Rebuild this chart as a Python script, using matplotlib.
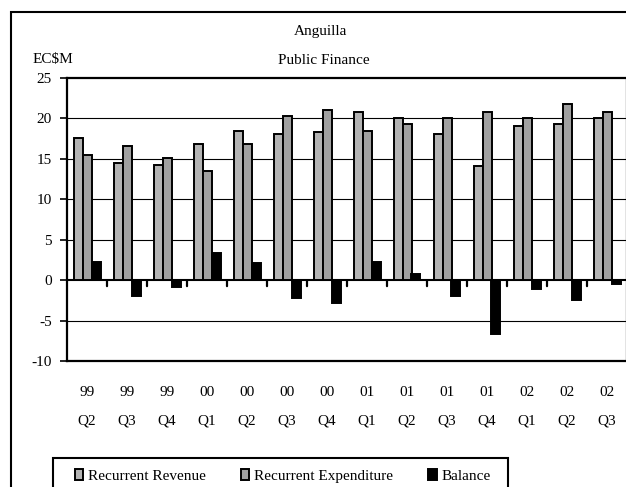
import matplotlib
matplotlib.use("Agg")
import matplotlib.pyplot as plt
import matplotlib.transforms as mtransforms
from matplotlib.patches import Rectangle
import numpy as np

# Quarterly public finance figures (EC$ millions)
years = ["99", "99", "99", "00", "00", "00", "00", "01", "01", "01", "01", "02", "02", "02"]
quarters = ["Q2", "Q3", "Q4", "Q1", "Q2", "Q3", "Q4", "Q1", "Q2", "Q3", "Q4", "Q1", "Q2", "Q3"]
revenue = [17.6, 14.5, 14.3, 16.8, 18.5, 18.1, 18.3, 20.8, 20.1, 18.1, 14.1, 19.1, 19.3, 20.1]
expenditure = [15.5, 16.6, 15.1, 13.5, 16.8, 20.3, 21.1, 18.5, 19.3, 20.1, 20.8, 20.1, 21.8, 20.8]
balance = [2.3, -2.0, -0.8, 3.3, 2.1, -2.2, -2.8, 2.3, 0.8, -2.0, -6.6, -1.1, -2.5, -0.5]
yticks = [-10, -5, 0, 5, 10, 15, 20, 25]

plt.rcParams["font.family"] = ["Liberation Serif", "DejaVu Serif"]
FS = 11

W, H = 626, 487
fig = plt.figure(figsize=(W / 100, H / 100), dpi=100)

# outer chart frame (runs off the right and bottom edges)
fig.patches.append(Rectangle((11 / W, -0.2), 1.2, 0.2 + (H - 12) / H,
                             transform=fig.transFigure, fill=False,
                             edgecolor="black", linewidth=1.5, zorder=0))

left, right, top, bottom = 67, 627, 78, 361
ax = fig.add_axes([left / W, (H - bottom) / H, (right - left) / W, (bottom - top) / H])

x = np.arange(len(years))
bw = 0.225
lw_bar = 1.4
b1 = ax.bar(x - bw, revenue, bw, color="#b3b3b3", edgecolor="black", linewidth=lw_bar,
            label="Recurrent Revenue", zorder=3)
b2 = ax.bar(x, expenditure, bw, color="#a0a0a0", edgecolor="black", linewidth=lw_bar,
            label="Recurrent Expenditure", zorder=3)
b3 = ax.bar(x + bw, balance, bw, color="black", edgecolor="black", linewidth=lw_bar,
            label="Balance", zorder=3)

ax.set_xlim(-0.5, len(years) - 0.5)
ax.set_ylim(-10, 25)

# horizontal grid
for v in yticks:
    if v in (-10, 25):
        continue
    ax.axhline(v, color="black", linewidth=1.5 if v == 0 else 0.8, zorder=2)

for s in ax.spines.values():
    s.set_linewidth(1.6)

ax.set_yticks(yticks)
ax.set_yticklabels([str(v) for v in yticks], fontsize=FS)
ax.tick_params(axis="y", direction="out", length=5, width=1.2, pad=6)

# category boundary ticks hanging from the zero line
ax.set_xticks([])
for b in np.arange(0.5, len(years) - 0.5, 1.0):
    ax.annotate("", xy=(b, 0), xycoords="data", xytext=(0, -6), textcoords="offset pixels",
                arrowprops=dict(arrowstyle="-", color="black", linewidth=1.6,
                                shrinkA=0, shrinkB=0), zorder=4)

# two-line category labels
tlab = mtransforms.blended_transform_factory(ax.transData, ax.transAxes)
for i in x:
    ax.text(i, (bottom - 393) / (bottom - top), years[i], transform=tlab,
            ha="center", va="center", fontsize=FS)
    ax.text(i, (bottom - 421) / (bottom - top), quarters[i], transform=tlab,
            ha="center", va="center", fontsize=FS)

# titles and unit label
fig.text(321 / W, 1 - 31 / H, "Anguilla", ha="center", va="center", fontsize=FS)
fig.text(324 / W, 1 - 60 / H, "Public Finance", ha="center", va="center", fontsize=FS)
fig.text(33 / W, 1 - 60 / H, "EC\\$M", ha="left", va="center", fontsize=FS)

# legend box (open at the bottom edge of the image)
fig.patches.append(Rectangle((53 / W, -0.2), (508 - 53) / W, 0.2 + (H - 458) / H,
                             transform=fig.transFigure, fill=False,
                             edgecolor="black", linewidth=1.5, zorder=1))
leg = fig.legend(handles=[b1, b2, b3], loc="center left",
                 bbox_to_anchor=(75 / W, 1 - 476 / H), ncol=3, fontsize=FS,
                 frameon=False, handlelength=0.55, handleheight=0.75,
                 handletextpad=0.3, columnspacing=2.3, borderpad=0, borderaxespad=0)

fig.savefig("out.png", dpi=100)
